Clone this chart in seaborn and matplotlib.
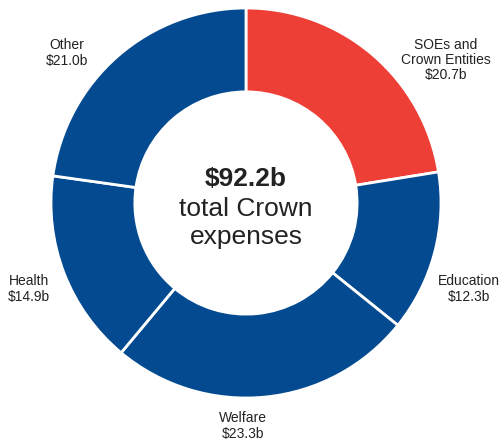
import matplotlib
matplotlib.use("Agg")
import matplotlib.pyplot as plt
import seaborn as sns

# Crown expenses by segment, $ billions
categories = ["SOEs and\nCrown Entities", "Education", "Welfare", "Health", "Other"]
values = [20.7, 12.3, 23.3, 14.9, 21.0]
highlight = "SOEs and\nCrown Entities"
total_label = "$92.2b"

sns.set_theme(style="white")
plt.rcParams["font.family"] = ["Liberation Sans", "DejaVu Sans"]

blue = "#044A91"
red = "#EE3F36"
colors = [red if c == highlight else blue for c in categories]

fig = plt.figure(figsize=(5.04, 4.42), dpi=100)
ax = fig.add_axes([0, 0, 1, 1])

# pixel layout: centre of the ring and its outer radius
W, H = 504, 442
cx, cy, R = 246, 203, 195

ax.pie(values, colors=colors, startangle=90, counterclock=False,
       radius=1.0,
       wedgeprops=dict(width=0.43, edgecolor="white", linewidth=2.0))

ax.set_xlim(-cx / R, (W - cx) / R)
ax.set_ylim(-(H - cy) / R, cy / R)
ax.axis("off")


def px(x, y):
    return (x - cx) / R, (cy - y) / R


# category labels placed around the ring
label_pos = {
    "SOEs and\nCrown Entities": (446, 60),
    "Education": (469, 289),
    "Welfare": (243, 426),
    "Health": (29, 289),
    "Other": (67, 53),
}
for cat, val in zip(categories, values):
    x, y = px(*label_pos[cat])
    ax.text(x, y, f"{cat}\n${val:.1f}b", ha="center", va="center",
            multialignment="center", fontsize=10, color="#222222",
            linespacing=1.1)

# centre annotation
x0, y0 = px(246, 186)
ax.text(x0, y0, total_label, ha="center", va="baseline", fontsize=19,
        fontweight="bold", color="#222222")
x1, y1 = px(246, 216)
ax.text(x1, y1, "total Crown", ha="center", va="baseline", fontsize=19,
        color="#222222")
x2, y2 = px(246, 244)
ax.text(x2, y2, "expenses", ha="center", va="baseline", fontsize=19,
        color="#222222")

fig.savefig("out.png", dpi=100, facecolor="white")
